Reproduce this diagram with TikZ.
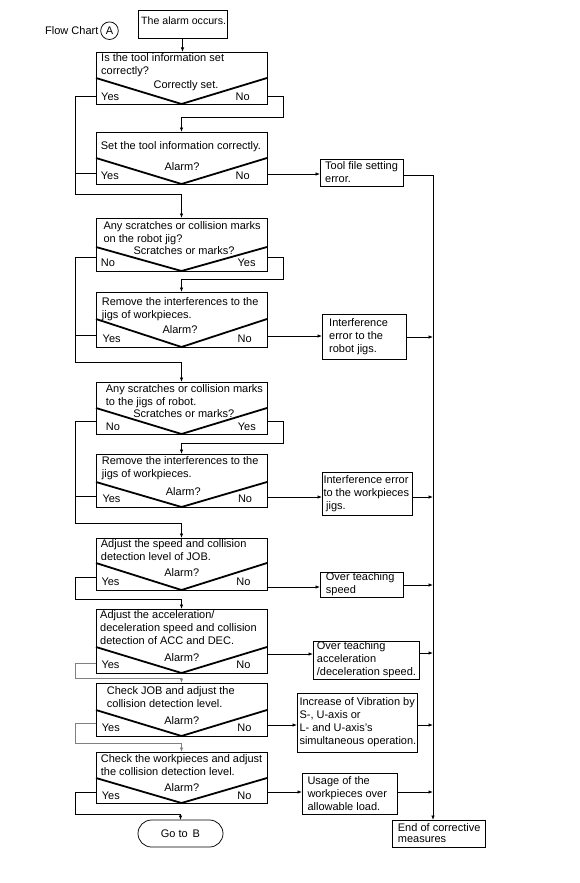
\documentclass[tikz,border=0pt]{standalone}
\usepackage{fontspec}
\setmainfont{Liberation Sans}
\usetikzlibrary{arrows.meta}
\newcommand\fsz{\fontsize{11}{13}\selectfont}
\newcommand\fstrut{\rule{0pt}{9pt}}
\begin{document}
\begin{tikzpicture}[x=1pt,y=-1pt,
  ln/.style={line width=0.75pt},
  arr/.style={line width=0.75pt,-{Latex[length=4.5pt,width=3.5pt]}},
  gln/.style={line width=0.75pt,draw=black!50,-{Latex[length=4.5pt,width=3.5pt]}},
  frame/.style={draw,line width=0.75pt,inner sep=0pt,outer sep=0pt,anchor=north west},
  vee/.style={line width=1.8pt},
  txt/.style={inner sep=0pt,align=left,font=\fsz,anchor=north west,execute at begin node=\fstrut},
  qtxt/.style={txt,yshift=-1.5pt},
  lbl/.style={txt,anchor=north},
  rlbl/.style={txt,anchor=north east},
  rtxt/.style={inner sep=0pt,align=left,font=\fsz,anchor=west,execute at begin node=\fstrut},
]
\useasboundingbox[fill=white] (0,0) rectangle (579,883);

\newcommand\decbox[4]{%
  \node[frame,minimum width=171,minimum height={#4-#2}] (#1) at (96,#2) {};
  \draw[vee] (96,#3) -- (181.5,#4) -- (267,#3);
}

\coordinate (LX) at (75,0);
\coordinate (RX) at (283,0);
\coordinate (MX) at (433,0);

% header
\node[rtxt] (fc) at (45,30.5) {Flow Chart};
\node[draw,circle,line width=0.75pt,minimum size=17.6,inner sep=0pt,font=\fsz] (ca) at (109.5,30.7) {A};
\node[frame,minimum width=89,minimum height=28] (alarm) at (138,10.5) {};
\node[txt,font=\fontsize{10.6}{13}\selectfont] (alarmt) at (141,15.3) {The alarm occurs.};

% decision boxes
\decbox{b1}{52}{78}{104}
\node[qtxt] (q1) at (101,52.1) {Is the tool information set\\correctly?};
\node[lbl] (l1) at (186,79.1) {Correctly set.};
\node[txt] (y1) at (101,90.8) {Yes};
\node[rlbl] (n1) at (250,90.8) {No};

\decbox{b2}{132}{158}{184}
\node[qtxt] (q2) at (100.7,138.6) {Set the tool information correctly.};
\node[lbl] (l2) at (182,160.8) {Alarm?};
\node[txt] (y2) at (100.7,170.5) {Yes};
\node[rlbl] (n2) at (250,170.5) {No};

\decbox{b3}{218}{247}{271}
\node[qtxt] (q3) at (103.3,219.8) {Any scratches or collision marks\\on the robot jig?};
\node[lbl] (l3) at (184,244.8) {Scratches or marks?};
\node[txt] (y3) at (100.7,257.1) {No};
\node[rlbl] (n3) at (255.7,257.1) {Yes};

\decbox{b4}{292}{319}{347}
\node[qtxt] (q4) at (101.7,295.8) {Remove the interferences to the\\jigs of workpieces.};
\node[lbl] (l4) at (180,323.8) {Alarm?};
\node[txt] (y4) at (102.5,332.8) {Yes};
\node[rlbl] (n4) at (252,332.8) {No};

\decbox{b5}{382}{408}{434}
\node[qtxt] (q5) at (105.7,382.8) {Any scratches or collision marks\\to the jigs of robot.};
\node[lbl] (l5) at (183.7,407.8) {Scratches or marks?};
\node[txt] (y5) at (105.7,420.8) {No};
\node[rlbl] (n5) at (256,420.8) {Yes};

\decbox{b6}{454}{482}{507}
\node[qtxt] (q6) at (101.7,454.8) {Remove the interferences to the\\jigs of workpieces.};
\node[lbl] (l6) at (183.3,486.5) {Alarm?};
\node[txt] (y6) at (102.3,492.8) {Yes};
\node[rlbl] (n6) at (252.3,492.8) {No};

\decbox{b7}{538}{563}{590}
\node[qtxt] (q7) at (100.7,538.1) {Adjust the speed and collision\\detection level of JOB.};
\node[lbl] (l7) at (181.7,567.5) {Alarm?};
\node[txt] (y7) at (101.3,575.8) {Yes};
\node[rlbl] (n7) at (250.7,575.8) {No};

\decbox{b8}{609}{647}{673}
\node[qtxt] (q8) at (100,609.1) {Adjust the acceleration/\\deceleration speed and collision\\detection of ACC and DEC.};
\node[lbl] (l8) at (181.7,652.5) {Alarm?};
\node[txt] (y8) at (101.3,659.1) {Yes};
\node[rlbl] (n8) at (250.7,659.1) {No};

\decbox{b9}{683}{710}{736}
\node[qtxt] (q9) at (106.7,684.8) {Check JOB and adjust the\\collision detection level.};
\node[lbl] (l9) at (181.7,714.8) {Alarm?};
\node[txt] (y9) at (101.7,722.1) {Yes};
\node[rlbl] (n9) at (251.7,722.1) {No};

\decbox{b10}{752}{778}{803}
\node[qtxt] (q10) at (100.7,753.1) {Check the workpieces and adjust\\the collision detection level.};
\node[lbl] (l10) at (181.7,782.1) {Alarm?};
\node[txt] (y10) at (101.7,790.1) {Yes};
\node[rlbl] (n10) at (251.7,790.1) {No};

\node[frame,rounded corners=13.5pt,minimum width=85,minimum height=27,font=\fsz] (goto) at (138,820) {Go to\, B};

% result boxes
\node[frame,minimum width=83,minimum height=27] (tool) at (320,159) {};
\node[rtxt] (toolt) at ([xshift=5pt]tool.west) {Tool file setting\\error.};
\node[frame,minimum width=84,minimum height=45] (ir) at (322,314) {};
\node[rtxt] (irt) at ([xshift=7pt]ir.west) {Interference\\error to the\\robot jigs.};
\node[frame,minimum width=90,minimum height=43] (iw) at (322,472) {};
\node[rtxt] (iwt) at ([xshift=1.3pt]iw.west) {Interference error\\to the workpieces\\\hspace*{2.7pt}jigs.};
\node[frame,minimum width=83,minimum height=25] (ots) at (320,572) {};
\node[rtxt] (otst) at ([xshift=5.7pt]ots.west) {Over teaching\\speed};
\node[frame,minimum width=106,minimum height=38] (ota) at (313,641) {};
\node[rtxt] (otat) at ([xshift=3.7pt]ota.west) {Over teaching\\acceleration\\/deceleration speed.};
\node[frame,minimum width=120,minimum height=59] (iv) at (297,693) {};
\node[rtxt] (ivt) at ([xshift=2.3pt]iv.west) {Increase of Vibration by\\S-, U-axis or\\L- and U-axis’s\\simultaneous operation.};
\node[frame,minimum width=95,minimum height=41] (us) at (302,773) {};
\node[rtxt] (ust) at ([xshift=5.3pt]us.west) {Usage of the\\workpieces over\\allowable load.};
\node[frame,minimum width=93,minimum height=27] (end) at (392,820) {};
\node[rtxt,font=\fontsize{11}{11}\selectfont] (endt) at ([xshift=5.7pt]end.west) {End of corrective\\measures};

% connectors
\draw[arr] (alarm.south) -- (alarm.south |- b1.north);

\draw[arr] (b1.west |- 0,96) -- (LX |- 0,96) |- (b3.north |- 0,194) -- (b3.north);
\draw[ln] (b2.west |- 0,173) -- (LX |- 0,173);
\draw[arr] (b1.east |- 0,96) -- (RX |- 0,96) |- (b2.north |- 0,117) -- (b2.north);
\draw[arr] (b2.east |- 0,174) -- (tool.west |- 0,174);
\draw[arr] (tool.east |- 0,175) -| (MX |- end.north);

\draw[arr] (b3.west |- 0,257) -- (LX |- 0,257) |- (b5.north |- 0,362) -- (b5.north);
\draw[ln] (b4.west |- 0,335) -- (LX |- 0,335);
\draw[arr] (b3.east |- 0,257) -- (RX |- 0,257) |- (b4.north |- 0,279) -- (b4.north);
\draw[arr] (b4.east |- 0,336) -- (ir.west |- 0,336);
\draw[arr] (ir.east |- 0,337) -- (MX |- 0,337);

\draw[arr] (b5.west |- 0,421) -- (LX |- 0,421) |- (b7.north |- 0,523) -- (b7.north);
\draw[ln] (b6.west |- 0,496) -- (LX |- 0,496);
\draw[arr] (b5.east |- 0,421) -- (RX |- 0,421) |- (b6.north |- 0,443) -- (b6.north);
\draw[arr] (b6.east |- 0,497) -- (iw.west |- 0,497);
\draw[arr] (iw.east |- 0,497) -- (MX |- 0,497);

\draw[arr] (b7.west |- 0,577) -- (LX |- 0,577) |- (b8.north |- 0,599) -- (b8.north);
\draw[arr] (b7.east |- 0,587) -- (ots.west |- 0,587);
\draw[arr] (ots.east |- 0,585) -- (MX |- 0,585);

\draw[gln] (b8.west |- 0,663) -- (LX |- 0,663) |- (b9.north |- 0,678) -- (b9.north);
\draw[arr] (b8.east |- 0,654) -- (ota.west |- 0,654);
\draw[arr] (ota.east |- 0,653) -- (MX |- 0,653);

\draw[gln] (b9.west |- 0,723) -- (LX |- 0,723) |- (b10.north |- 0,743) -- (b10.north);
\draw[arr] (b9.east |- 0,725) -- (iv.west |- 0,725);
\draw[arr] (iv.east |- 0,725) -- (MX |- 0,725);

\draw[arr] (b10.west |- 0,792) -- (LX |- 0,792) |- (goto.north |- 0,814) -- (goto.north);
\draw[arr] (b10.east |- 0,792) -- (us.west |- 0,792);
\draw[arr] (us.east |- 0,792) -- (MX |- 0,792);
\end{tikzpicture}
\end{document}
